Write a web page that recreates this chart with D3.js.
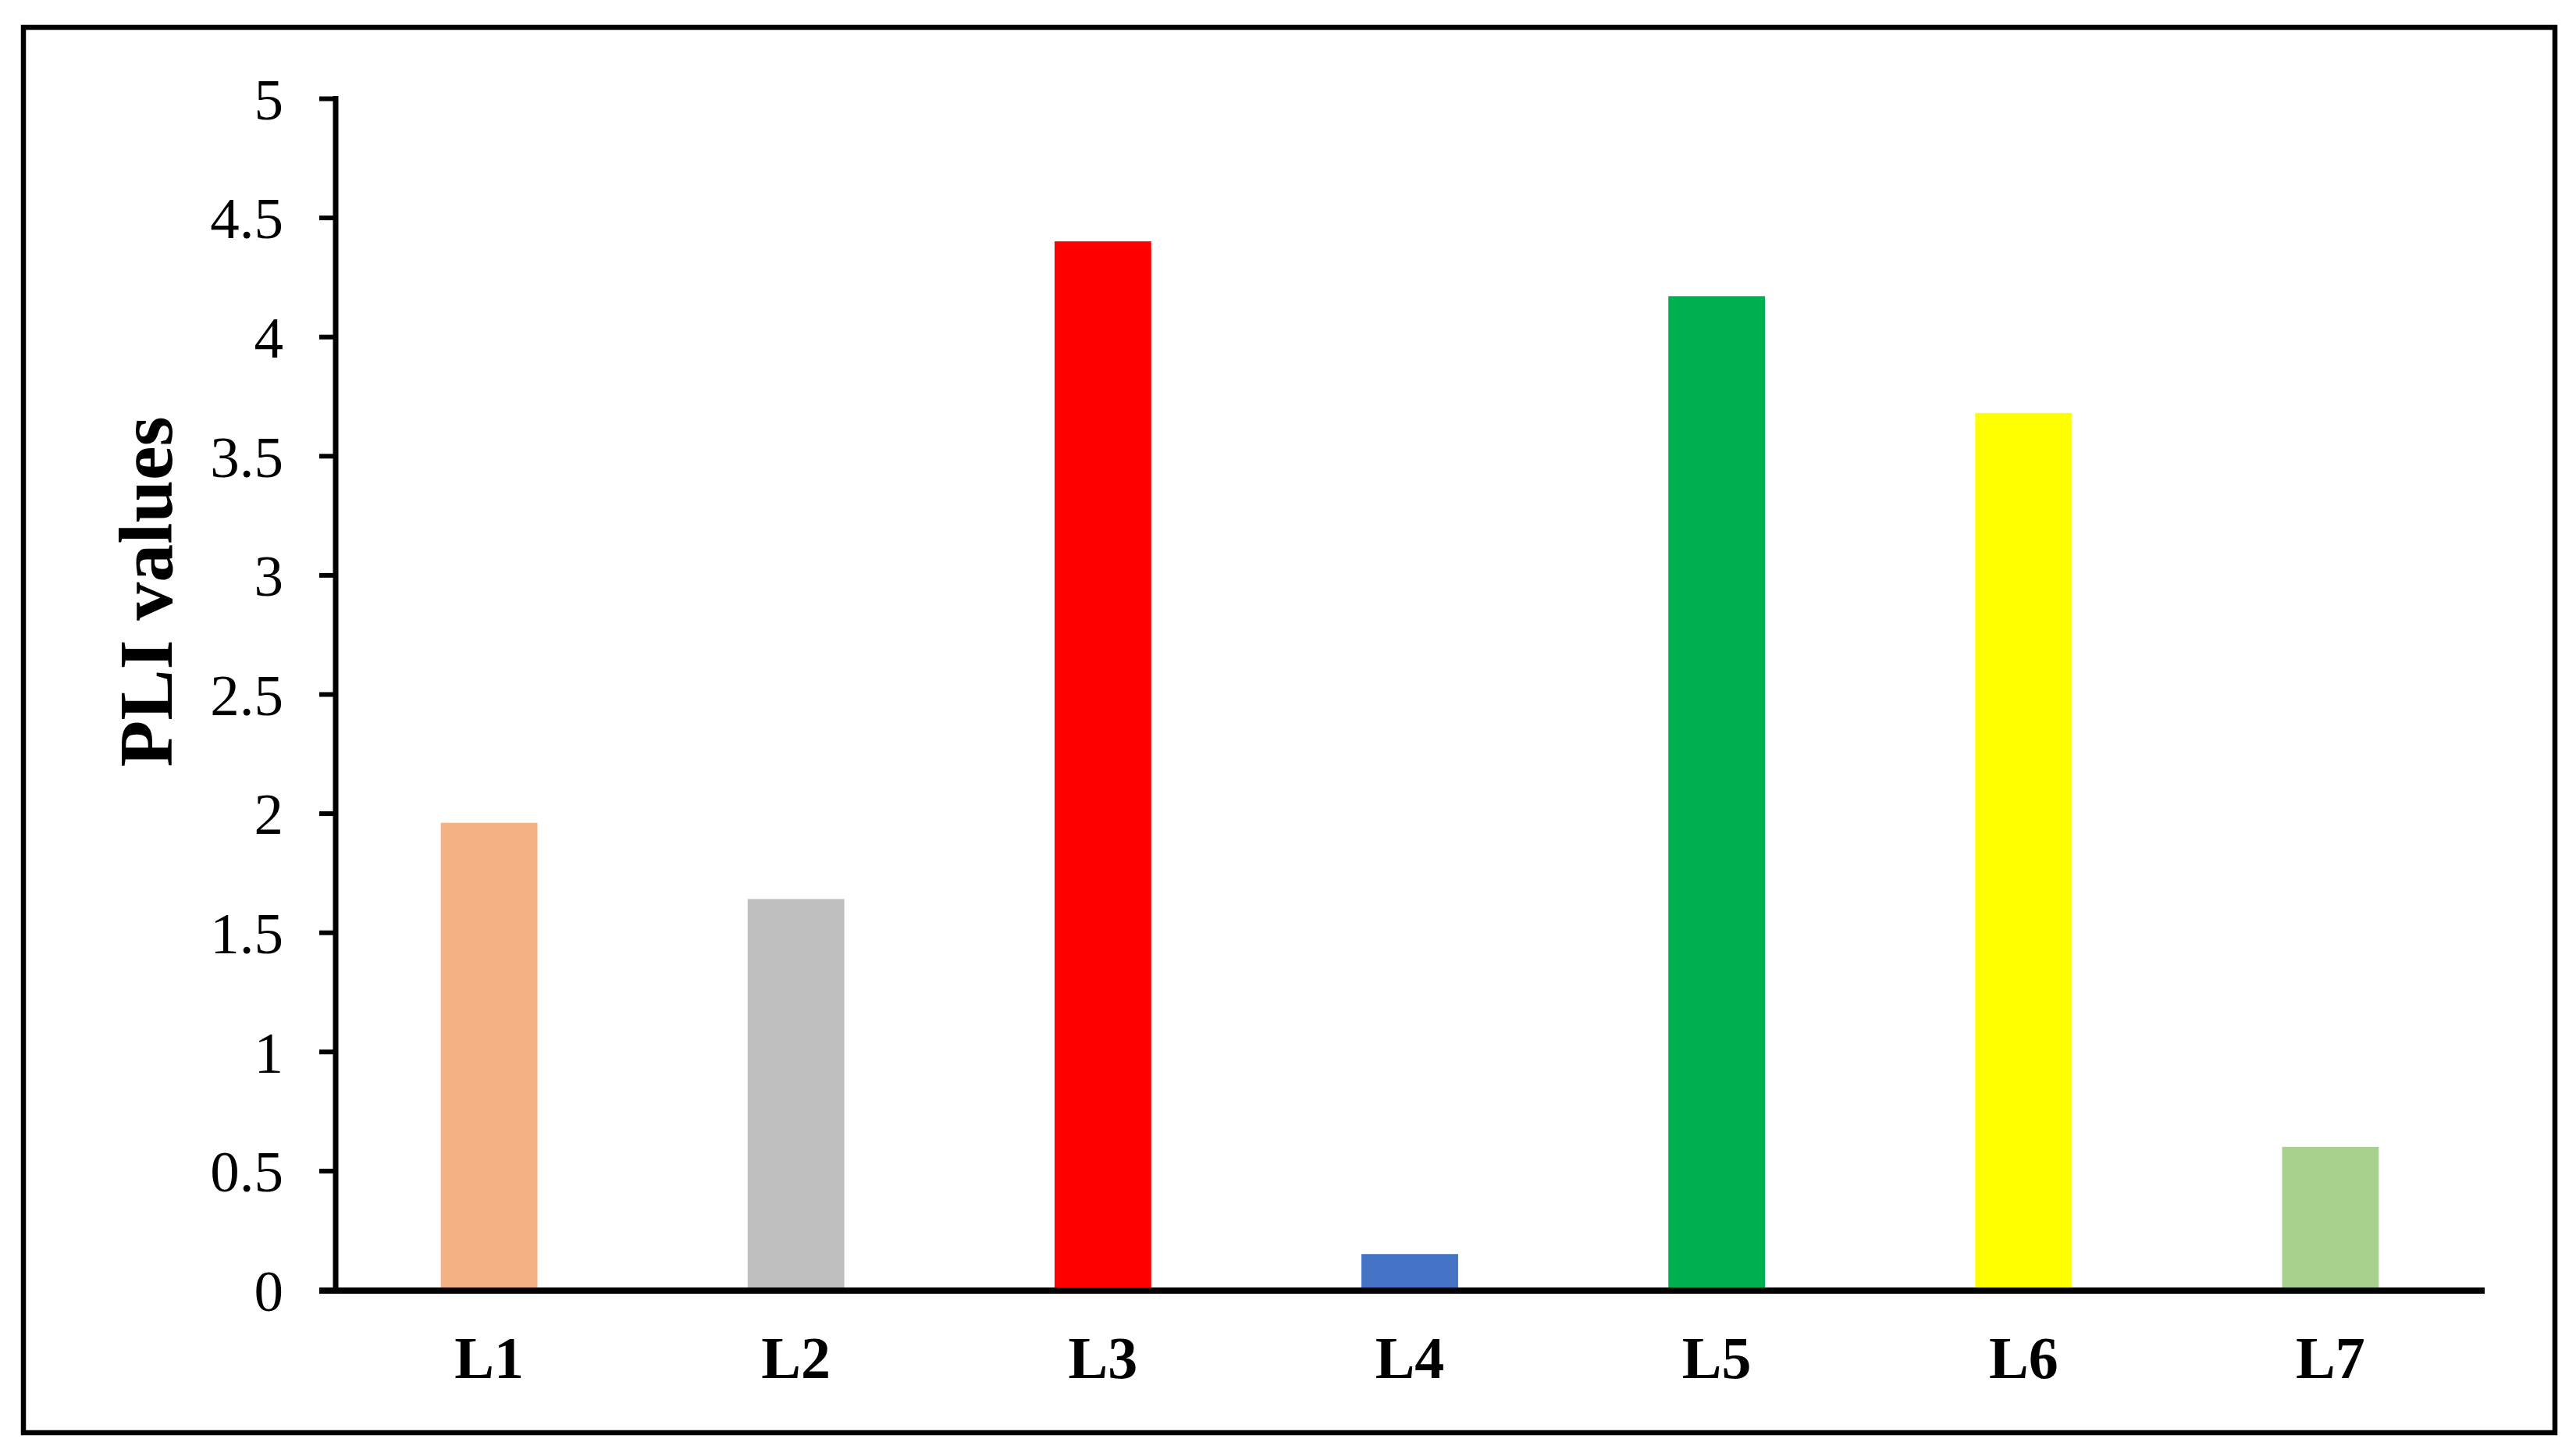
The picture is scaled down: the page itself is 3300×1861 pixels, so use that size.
<!DOCTYPE html>
<html>
<head>
<meta charset="utf-8">
<script src="https://cdn.jsdelivr.net/npm/d3@7"></script>
<style>
    body { margin: 0; background: #fff; }
    svg { display: block; }
    .tick text { font-family: "Liberation Serif", "Times New Roman", serif; fill: #000; }
</style>
</head>
<body>
<div id="chartArea"></div>
<script>
// Data
let sites = ['L1', 'L2', 'L3', 'L4', 'L5', 'L6', 'L7'];
let pliValues = [1.96, 1.64, 4.40, 0.15, 4.17, 3.68, 0.60];
let barColors = ['#F4B183', '#BFBFBF', '#FF0000', '#4472C4', '#00B050', '#FFFF00', '#A9D18E'];
let yTicks = [0, 0.5, 1, 1.5, 2, 2.5, 3, 3.5, 4, 4.5, 5];

let width = 3300,
    height = 1861;

let plot = { left: 430, right: 3182, top: 126, bottom: 1652 };

let svg = d3.select('#chartArea')
    .append('svg')
        .attr('width', width)
        .attr('height', height);

// outer frame
svg.append('rect')
    .attr('x', 30)
    .attr('y', 35)
    .attr('width', 3243)
    .attr('height', 1800)
    .attr('fill', 'none')
    .attr('stroke', '#000')
    .attr('stroke-width', 6.5);

let xScale = d3.scaleBand()
    .domain(sites)
    .range([plot.left, plot.right])
    .paddingInner(0.685)
    .paddingOuter(0.3425);

let yScale = d3.scaleLinear()
    .domain([0, 5])
    .range([plot.bottom, plot.top]);

// bars
svg.selectAll('.bar')
    .data(sites)
    .enter().append('rect')
        .attr('class', 'bar')
        .attr('x', d => xScale(d))
        .attr('width', xScale.bandwidth())
        .attr('y', (d, i) => yScale(pliValues[i]))
        .attr('height', (d, i) => yScale(0) - yScale(pliValues[i]))
        .attr('fill', (d, i) => barColors[i]);

// y axis
let yAxis = svg.append('g')
    .attr('class', 'y axis')
    .attr('transform', 'translate(' + plot.left + ',0)')
    .call(
        d3.axisLeft(yScale)
            .tickValues(yTicks)
            .tickFormat(d => String(d))
            .tickSizeInner(21)
            .tickSizeOuter(0)
            .tickPadding(46)
    );

yAxis.select('.domain')
    .attr('stroke', '#000')
    .attr('stroke-width', 7)
    .attr('d', 'M0,' + (plot.top - 3) + 'V' + (plot.bottom + 4));
yAxis.selectAll('.tick line')
    .attr('stroke', '#000')
    .attr('stroke-width', 6);
yAxis.selectAll('.tick text')
    .attr('font-size', 75)
    .attr('dy', '0.35em');

// x axis
let xAxis = svg.append('g')
    .attr('class', 'x axis')
    .attr('transform', 'translate(0,' + plot.bottom + ')')
    .call(
        d3.axisBottom(xScale)
            .tickSize(0)
            .tickPadding(59)
    );

xAxis.select('.domain').remove();
xAxis.selectAll('.tick text')
    .attr('font-size', 76)
    .attr('font-weight', 'bold');

// horizontal axis line, running out under the zero tick
svg.append('line')
    .attr('x1', plot.left - 21)
    .attr('x2', plot.right + 1)
    .attr('y1', yScale(0) + 1)
    .attr('y2', yScale(0) + 1)
    .attr('stroke', '#000')
    .attr('stroke-width', 8);

// y axis title
svg.append('text')
    .attr('transform', 'translate(220,758) rotate(-90)')
    .attr('text-anchor', 'middle')
    .attr('font-family', '"Liberation Serif", "Times New Roman", serif')
    .attr('font-weight', 'bold')
    .attr('font-size', 98)
    .text('PLI values');
</script>
</body>
</html>
